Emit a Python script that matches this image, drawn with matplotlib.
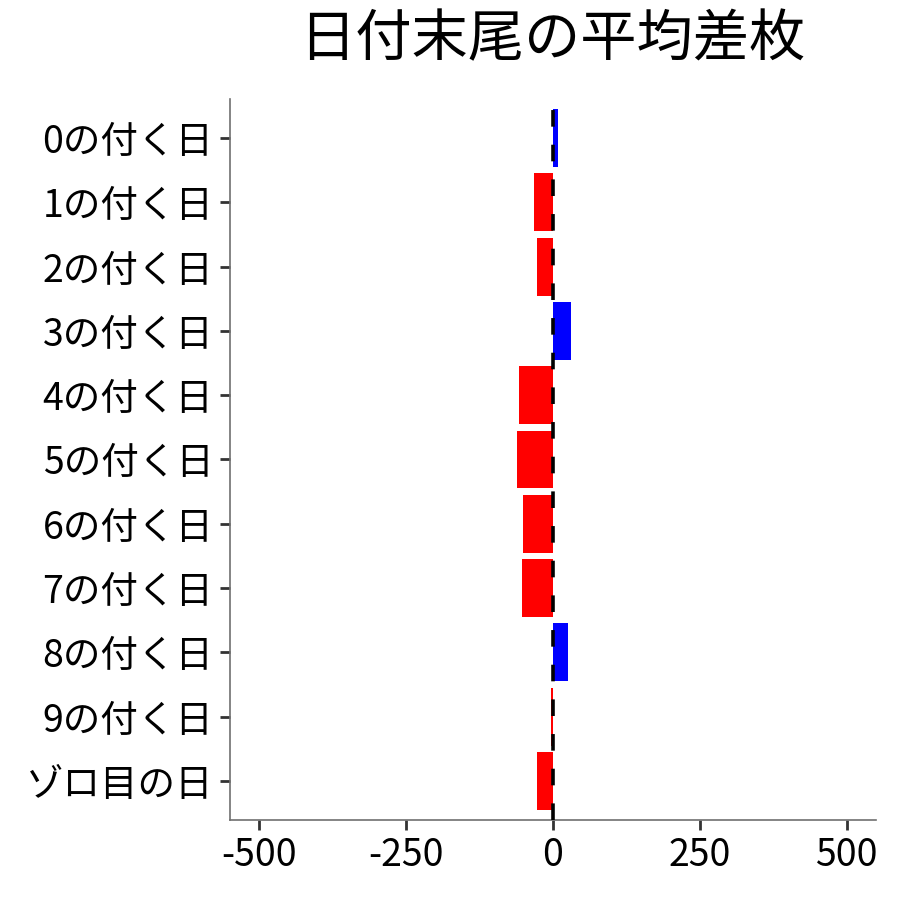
import numpy as np
import matplotlib
matplotlib.use("Agg")
import matplotlib.pyplot as plt

plt.rcParams['font.family'] = ['Noto Sans CJK JP', 'DejaVu Sans']

# データ
labels = ["0の付く日", "1の付く日", "2の付く日", "3の付く日", "4の付く日",
          "5の付く日", "6の付く日", "7の付く日", "8の付く日", "9の付く日", "ゾロ目の日"]
diffs = [8, -33, -28, 31, -58, -62, -51, -53, 26, -4, -28]
x_ticks = [-500, -250, 0, 250, 500]

colors = ["blue" if d > 0 else "red" for d in diffs]
ypos = np.arange(len(labels))[::-1] + 1

fig = plt.figure(figsize=(9, 9), dpi=100)
ax = fig.add_axes([0.2556, 0.0893, 0.7178, 0.8003])

ax.barh(ypos, diffs, height=0.9, color=colors, zorder=2)
ax.axvline(0, color="black", linewidth=2.6, dashes=(4.6, 5.0), zorder=3)

ax.set_xlim(-550, 550)
ax.set_ylim(0.4, len(labels) + 0.6)
ax.set_xticks(x_ticks)
ax.set_xticklabels([str(t) for t in x_ticks])
ax.set_yticks(ypos)
ax.set_yticklabels(labels)

for s in ["top", "right"]:
    ax.spines[s].set_visible(False)
for s in ["left", "bottom"]:
    ax.spines[s].set_color("#707070")
    ax.spines[s].set_linewidth(1.2)

ax.tick_params(axis="both", labelsize=27, length=7, width=2, color="#333333", pad=5)

fig.suptitle("日付末尾の平均差枚", fontsize=40.5, x=0.614, y=0.987, va="top")

fig.savefig("out.png", dpi=100)
